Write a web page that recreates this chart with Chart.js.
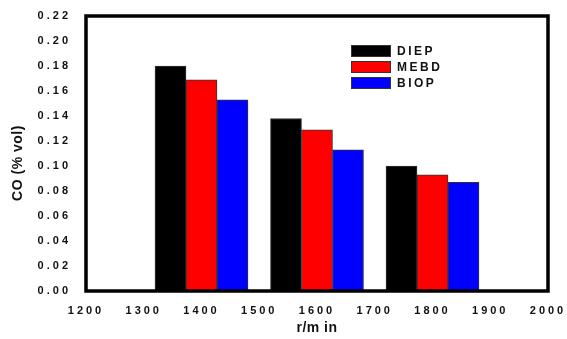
<!DOCTYPE html>
<html>
<head>
<meta charset="utf-8">
<script src="https://cdn.jsdelivr.net/npm/chart.js@4"></script>
<style>
  html, body { margin: 0; padding: 0; background: #fff; }
  #wrap { width: 567px; height: 339px; }
</style>
</head>
<body>
<div id="wrap"><canvas id="myChart"></canvas></div>
<script>
const rpm = [1400, 1600, 1800];
const diep = [0.180, 0.138, 0.100];
const mebd = [0.169, 0.129, 0.093];
const biop = [0.153, 0.113, 0.087];
const seriesNames = ["DIEP", "MEBD", "BIOP"];
const seriesColors = ["#000000", "#ff0000", "#0000ff"];
const xTitle = "r/m in";
const yTitle = "CO (% vol)";

const FONT = "'Liberation Sans', Arial, sans-serif";

function toPoints(vals) {
  return rpm.map((r, i) => ({ x: r, y: vals[i] }));
}

// frame, legend and axis titles drawn by hand
const extras = {
  id: "extras",
  beforeDraw(chart) {
    chart.ctx.letterSpacing = "3px";
  },
  afterDraw(chart) {
    const ctx = chart.ctx;
    const a = chart.chartArea;
    ctx.save();
    ctx.letterSpacing = "0px";
    ctx.strokeStyle = "#000";
    ctx.lineWidth = 3.5;
    ctx.strokeRect(a.left, a.top, a.right - a.left, a.bottom - a.top);

    // legend
    ctx.letterSpacing = "2.5px";
    ctx.font = "bold 12px " + FONT;
    ctx.textBaseline = "middle";
    chart.data.datasets.forEach((ds, i) => {
      const y = 45 + i * 16;
      ctx.fillStyle = ds.backgroundColor;
      ctx.fillRect(351, y, 40, 12);
      ctx.lineWidth = 1;
      ctx.strokeStyle = "#333";
      ctx.strokeRect(351.5, y + 0.5, 39, 11);
      ctx.fillStyle = "#111";
      ctx.fillText(ds.label, 397, y + 6.5);
    });

    // axis titles
    ctx.letterSpacing = "0.5px";
    ctx.fillStyle = "#111";
    ctx.font = "bold 14px " + FONT;
    ctx.textAlign = "center";
    ctx.textBaseline = "middle";
    ctx.fillText(xTitle, (a.left + a.right) / 2, 328);
    ctx.translate(18, 163);
    ctx.rotate(-Math.PI / 2);
    ctx.fillText(yTitle, 0, 0);
    ctx.restore();
  }
};

new Chart("myChart", {
  type: "bar",
  data: {
    datasets: [
      { label: seriesNames[0], data: toPoints(diep), backgroundColor: seriesColors[0] },
      { label: seriesNames[1], data: toPoints(mebd), backgroundColor: seriesColors[1] },
      { label: seriesNames[2], data: toPoints(biop), backgroundColor: seriesColors[2] },
    ],
  },
  options: {
    responsive: true,
    maintainAspectRatio: false,
    animation: false,
    layout: { padding: { top: 16, right: 19, left: 0, bottom: 0 } },
    datasets: {
      bar: {
        borderColor: "#333",
        borderWidth: 1,
        barThickness: 31,
      },
    },
    plugins: { legend: { display: false }, tooltip: { enabled: false } },
    scales: {
      x: {
        type: "linear",
        offset: false,
        min: 1200,
        max: 2000,
        grid: { display: false, drawTicks: false },
        border: { display: false },
        ticks: {
          stepSize: 100,
          padding: 13,
          color: "#111",
          font: { family: FONT, size: 11, weight: "bold" },
          callback: (v) => String(v),
        },
        afterFit(scale) {
          scale.height = 48;
          scale.paddingLeft = 0;
          scale.paddingRight = 0;
        },
      },
      y: {
        min: 0,
        max: 0.22,
        grid: { display: false, drawTicks: false },
        border: { display: false },
        ticks: {
          stepSize: 0.02,
          padding: 15,
          color: "#111",
          font: { family: FONT, size: 11, weight: "bold" },
          callback: (v) => v.toFixed(2),
        },
        afterFit(scale) {
          scale.width = 86;
          scale.paddingTop = 0;
          scale.paddingBottom = 0;
        },
      },
    },
  },
  plugins: [extras],
});
</script>
</body>
</html>
